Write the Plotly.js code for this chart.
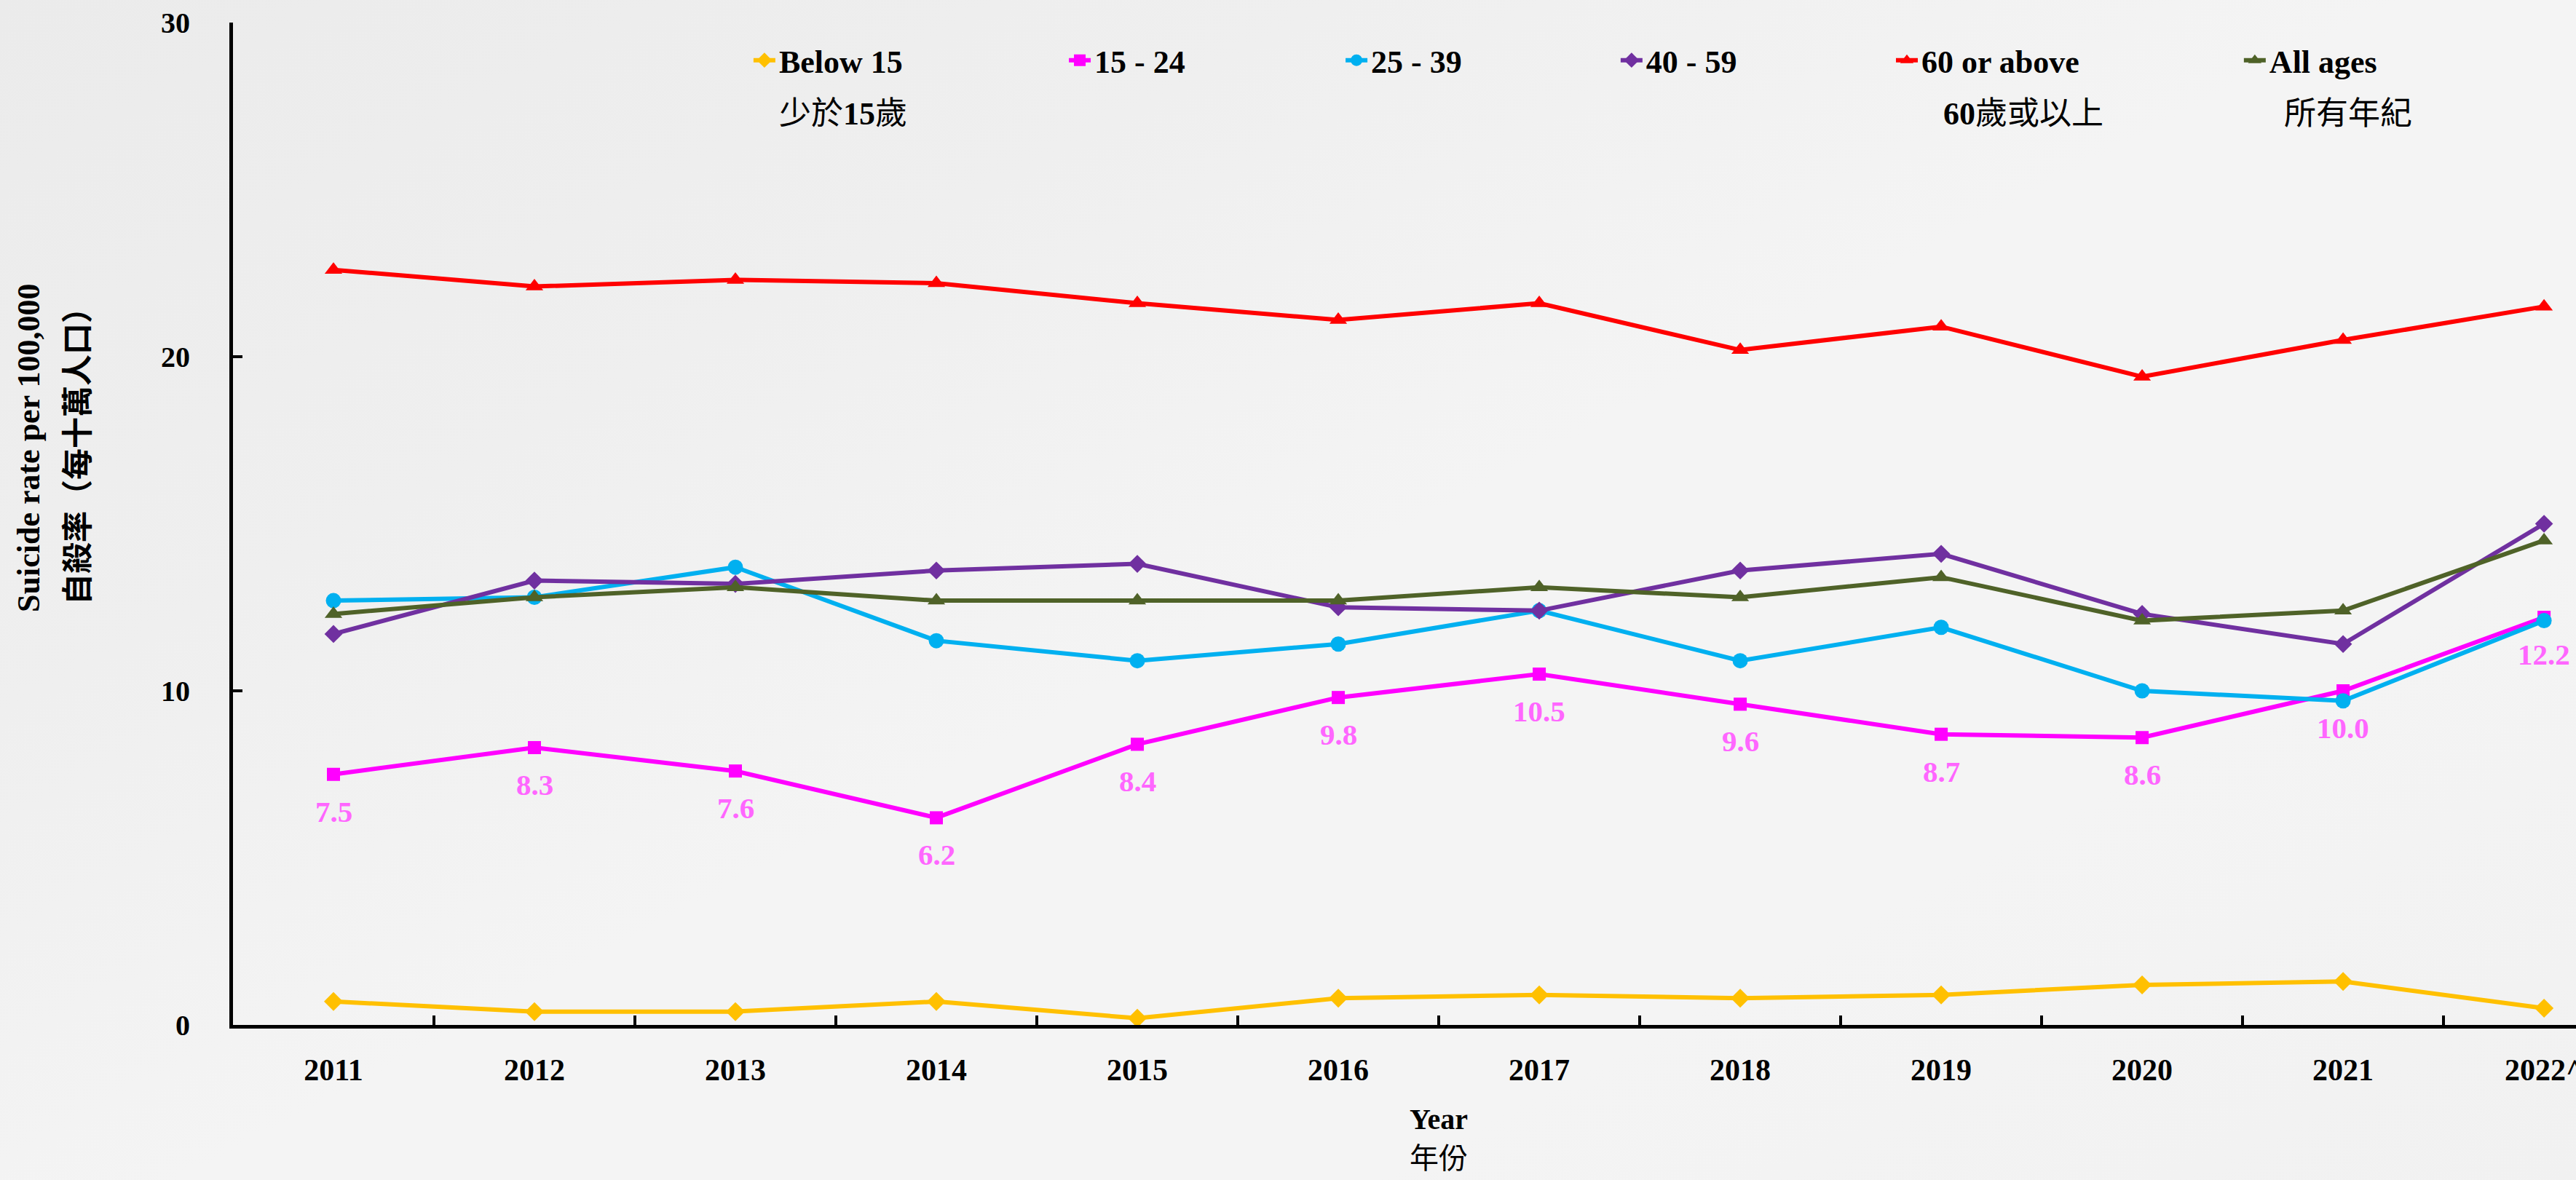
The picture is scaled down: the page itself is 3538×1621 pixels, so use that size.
<!DOCTYPE html>
<html>
<head>
<meta charset="utf-8">
<script src="https://cdn.plot.ly/plotly-3.0.1.min.js"></script>
<style>
html, body { margin: 0; padding: 0; overflow: hidden; width: 3538px; height: 1621px; }
body { background: linear-gradient(152deg, #ebebeb 0%, #efefef 28%, #f4f4f4 50%, #f4f4f4 75%, #f1f1f1 100%); }
#chart { width: 3538px; height: 1621px; }
</style>
</head>
<body>
<div id="chart"></div>
<script>
// ---- Data ----
const years = ["2011", "2012", "2013", "2014", "2015", "2016", "2017", "2018", "2019", "2020", "2021", "2022^"];
const below15  = [0.7, 0.4, 0.4, 0.7, 0.2, 0.8, 0.9, 0.8, 0.9, 1.2, 1.3, 0.5];
const age15to24 = [7.5, 8.3, 7.6, 6.2, 8.4, 9.8, 10.5, 9.6, 8.7, 8.6, 10.0, 12.2];
const age25to39 = [12.7, 12.8, 13.7, 11.5, 10.9, 11.4, 12.4, 10.9, 11.9, 10.0, 9.7, 12.1];
const age40to59 = [11.7, 13.3, 13.2, 13.6, 13.8, 12.5, 12.4, 13.6, 14.1, 12.3, 11.4, 15.0];
const age60plus = [22.6, 22.1, 22.3, 22.2, 21.6, 21.1, 21.6, 20.2, 20.9, 19.4, 20.5, 21.5];
const allAges   = [12.3, 12.8, 13.1, 12.7, 12.7, 12.7, 13.1, 12.8, 13.4, 12.1, 12.4, 14.5];

const seriesNames = ["Below 15", "15 - 24", "25 - 39", "40 - 59", "60 or above", "All ages"];
const seriesNamesZh = ["少於<b>15</b>歲", "", "", "", "<b>60</b>歲或以上", "所有年紀"];
const yTickVals = [0, 10, 20, 30];
const yTickText = ["0", "10", "20", "30"];

// ---- Styles ----
const SERIF = "'Liberation Serif', 'Times New Roman', serif";
const CJK = "'Liberation Serif', 'Noto Sans CJK TC', 'Noto Sans CJK SC', sans-serif";
const colors = ["#FFC000", "#FF00FF", "#00B0F0", "#7030A0", "#FF0000", "#4F6228"];
const symbols = ["diamond", "square", "circle", "diamond", "triangle-up", "triangle-up"];
const msizes = [20, 18, 21, 19, 21, 21];
const seriesData = [below15, age15to24, age25to39, age40to59, age60plus, allAges];
const legendIds = ["legend", "legend2", "legend3", "legend4", "legend5", "legend6"];
const legendX = [0.2206, 0.3552, 0.4733, 0.5907, 0.7082, 0.8567];
const zhX = [0.2324, null, null, null, 0.7293, 0.8748];

const traces = seriesData.map((vals, k) => ({
  type: "scatter",
  mode: "lines+markers",
  name: seriesNames[k],
  x: years,
  y: vals,
  legend: legendIds[k],
  line: { color: colors[k], width: 6 },
  marker: { color: colors[k], symbol: symbols[k], size: msizes[k] },
  hoverinfo: "x+y+name"
}));

const layout = {
  width: 3538,
  height: 1621,
  margin: { l: 320, r: 0, t: 31, b: 213, pad: 0 },
  paper_bgcolor: "rgba(0,0,0,0)",
  plot_bgcolor: "rgba(0,0,0,0)",
  showlegend: true,
  xaxis: {
    type: "category",
    categoryorder: "array",
    categoryarray: years,
    range: [-0.5, 11.159],
    tickson: "boundaries",
    ticks: "inside",
    ticklen: 13,
    tickwidth: 4,
    tickcolor: "#000",
    showline: true,
    linewidth: 5,
    linecolor: "#000",
    showgrid: false,
    zeroline: false,
    automargin: false,
    ticklabelstandoff: 21,
    tickfont: { family: SERIF, size: 42, color: "#000", weight: "bold" }
  },
  yaxis: {
    range: [0, 30],
    tickmode: "array",
    tickvals: yTickVals,
    ticktext: yTickText,
    ticks: "inside",
    ticklen: 13,
    tickwidth: 4,
    tickcolor: "#000",
    showline: true,
    linewidth: 5,
    linecolor: "#000",
    showgrid: false,
    zeroline: false,
    automargin: false,
    ticklabelstandoff: 46,
    tickfont: { family: SERIF, size: 40, color: "#000", weight: "bold" }
  },
  annotations: []
};

legendIds.forEach((id, k) => {
  layout[id] = {
    x: legendX[k], xref: "paper", xanchor: "left",
    y: 0.9622, yref: "paper", yanchor: "middle",
    orientation: "h",
    bgcolor: "rgba(0,0,0,0)",
    borderwidth: 0,
    itemwidth: 30,
    font: { family: SERIF, size: 44, color: "#000", weight: "bold" }
  };
});

// Chinese legend sub-labels
seriesNamesZh.forEach((t, k) => {
  if (!t) return;
  layout.annotations.push({
    xref: "paper", yref: "paper", x: zhX[k], y: 0.9085,
    xanchor: "left", yanchor: "middle", showarrow: false,
    text: t, font: { family: CJK, size: 44, color: "#000" }
  });
});

// Data labels for the 15 - 24 series (x given as category index)
age15to24.forEach((v, i) => {
  layout.annotations.push({
    xref: "x", yref: "y", x: i, y: v,
    yshift: -51, xanchor: "center", yanchor: "middle", showarrow: false,
    text: v.toFixed(1),
    font: { family: SERIF, size: 41, color: "#FF66FF", weight: "bold" }
  });
});

// Axis titles
layout.annotations.push(
  { xref: "paper", yref: "paper", x: 0.5146, y: -0.0937, showarrow: false,
    xanchor: "center", yanchor: "middle", text: "Year",
    font: { family: SERIF, size: 40, color: "#000", weight: "bold" } },
  { xref: "paper", yref: "paper", x: 0.5146, y: -0.1331, showarrow: false,
    xanchor: "center", yanchor: "middle", text: "年份",
    font: { family: CJK, size: 40, color: "#000" } },
  { xref: "paper", yref: "paper", x: -0.0870, y: 0.5752, showarrow: false,
    xanchor: "center", yanchor: "middle", textangle: -90,
    text: "Suicide rate per 100,000",
    font: { family: SERIF, size: 44, color: "#000", weight: "bold" } },
  { xref: "paper", yref: "paper", x: -0.0659, y: 0.5752, showarrow: false,
    xanchor: "center", yanchor: "middle", textangle: -90,
    text: "自殺率（每十萬人口）",
    font: { family: CJK, size: 43, color: "#000", weight: "bold" } }
);

Plotly.newPlot("chart", traces, layout, { displayModeBar: false });
</script>
</body>
</html>
